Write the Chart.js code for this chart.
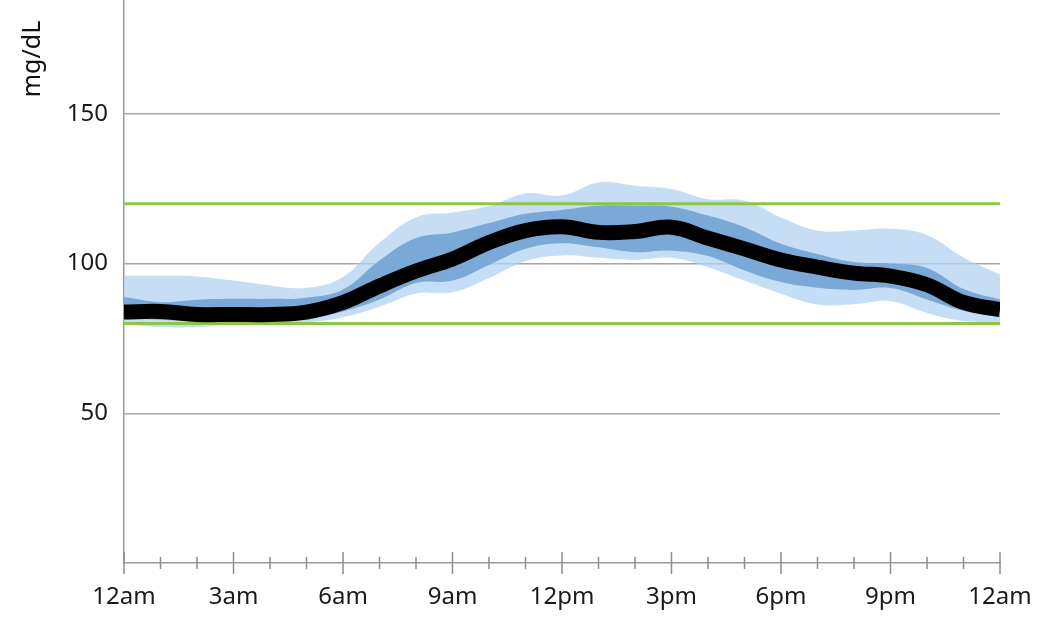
<!DOCTYPE html>
<html>
<head>
<meta charset="utf-8">
<script src="https://cdn.jsdelivr.net/npm/chart.js@4.4.1/dist/chart.umd.min.js"></script>
<style>
html,body{margin:0;padding:0;background:#fff}
canvas{display:block}
</style>
</head>
<body>
<canvas id="chart" width="1055" height="634"></canvas>
<script>
// horas del dia (0 = 12am ... 24 = 12am)
const horas=[0,1,2,3,4,5,6,7,8,9,10,11,12,13,14,15,16,17,18,19,20,21,22,23,24]
const etiquetasX=['12am','3am','6am','9am','12pm','3pm','6pm','9pm','12am']
const ticksY=[50,100,150]
const rangoObjetivo=[80,120]

const mediana=[83.8,84,83,83,83,83.8,87,92.5,97.5,101.5,107,111,112.3,110.4,110.7,112.1,108.5,104.9,101.2,98.8,96.8,95.8,92.9,87,84.6]
const p75=[88.8,87.1,87.9,88.2,88.2,88.6,91.3,101,108.5,110.4,113.5,116.6,117.9,119.3,119.3,119,116,112.1,106.6,103.2,100.5,100,98.5,91.5,88]
const p25=[82.1,81.2,80.8,80.8,81,81.6,84,88,93.5,94.3,99.5,104.9,106.8,105.4,103.8,104.3,102.5,97.7,93.8,91.9,91.2,91.8,88,84.2,82]
const p90=[95.9,95.9,95.7,94.3,92.7,91.9,95.5,107,115.4,117,119.2,123.4,122.7,127.1,126,124.9,121.5,121,115.4,111,111,111.6,109.5,102,96.3]
const p10=[79.7,78.8,78.8,79.7,80.1,80.4,82.1,85.6,90,90.4,95.2,100.8,102.7,101.9,101.2,101.9,98.8,94.3,89.9,86.3,86.4,87.4,83.5,80.8,80.4]

const fuente='"Noto Sans", sans-serif'

function puntos(valores){
    return horas.map((h,i)=>({x:h,y:valores[i]}))
}

const marcasEje={
    id:'marcasEje',
    afterDraw(chart){
        const {ctx, chartArea}=chart
        const x=chart.scales.x
        ctx.save()
        ctx.strokeStyle='#8c8c8c'
        ctx.lineWidth=1.5
        x.ticks.forEach(t=>{
            const px=x.getPixelForValue(t.value)
            const largo=t.value%3===0 ? 11 : 6
            ctx.beginPath()
            ctx.moveTo(px, chartArea.bottom-largo)
            ctx.lineTo(px, chartArea.bottom+largo)
            ctx.stroke()
        })
        // titulo del eje y, arriba a la izquierda
        ctx.translate(33,59)
        ctx.rotate(-Math.PI/2)
        ctx.fillStyle='#111'
        ctx.font='25px '+fuente
        ctx.textAlign='center'
        ctx.textBaseline='middle'
        ctx.fillText('mg/dL',0,0)
        ctx.restore()
    }
}

const ctx=document.getElementById('chart')

new Chart(ctx, {
    type:'line',
    data:{
        datasets:[{
            label:'Mediana',
            data:puntos(mediana),
            borderColor:'#000',
            borderWidth:15,
            tension:0.4,
            order:0
        },{
            label:'Objetivo alto',
            data:puntos(Array(horas.length).fill(rangoObjetivo[1])),
            borderColor:'#8dc549',
            borderWidth:3,
            order:1
        },{
            label:'Objetivo bajo',
            data:puntos(Array(horas.length).fill(rangoObjetivo[0])),
            borderColor:'#8dc549',
            borderWidth:3,
            order:1
        },{
            label:'75%',
            data:puntos(p75),
            borderWidth:0,
            backgroundColor:'#7aa9d8',
            fill:'+1',
            tension:0.4,
            order:2
        },{
            label:'25%',
            data:puntos(p25),
            borderWidth:0,
            tension:0.4,
            order:2
        },{
            label:'90%',
            data:puntos(p90),
            borderWidth:0,
            backgroundColor:'rgba(178,210,242,0.75)',
            fill:'+1',
            tension:0.4,
            order:3
        },{
            label:'10%',
            data:puntos(p10),
            borderWidth:0,
            tension:0.4,
            order:3
        }]
    },
    options:{
        responsive:false,
        animation:false,
        layout:{padding:{top:0,right:55,bottom:0,left:0}},
        elements:{point:{radius:0}},
        plugins:{legend:{display:false},tooltip:{enabled:false}},
        scales:{
            x:{
                type:'linear',
                min:0,
                max:24,
                grid:{display:false,drawTicks:false},
                border:{display:true,color:'#999',width:1.5},
                ticks:{
                    stepSize:1,
                    autoSkip:false,
                    maxRotation:0,
                    padding:20,
                    color:'#1a1a1a',
                    font:{family:fuente,size:24},
                    callback:v=> v%3===0 ? etiquetasX[v/3] : ''
                },
                afterFit:s=>{
                    s.height=71
                    s.paddingLeft=0
                    s.paddingRight=0
                }
            },
            y:{
                min:0,
                max:188,
                afterBuildTicks:s=>{
                    s.ticks=ticksY.map(v=>({value:v}))
                },
                grid:{color:'#a6a6a6',lineWidth:1.5,drawTicks:false},
                border:{display:true,color:'#999',width:1.5},
                ticks:{
                    padding:16,
                    color:'#1a1a1a',
                    font:{family:fuente,size:24}
                },
                afterFit:s=>{
                    s.width=124
                    s.paddingTop=0
                    s.paddingBottom=0
                }
            }
        }
    },
    plugins:[marcasEje]
})
</script>
</body>
</html>
